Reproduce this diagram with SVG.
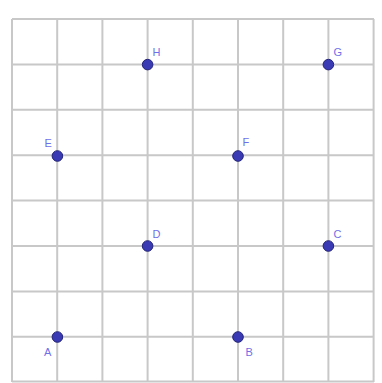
<svg xmlns="http://www.w3.org/2000/svg" width="382" height="383" viewBox="0 0 382 383">
<style>
.g{stroke:#c8c8c8;stroke-width:2;fill:none}
.p{fill:#3a3ab4;stroke:#24247a;stroke-width:1}
.l{font-family:"Liberation Sans",Arial,sans-serif;font-size:11px;fill:#7070e8}
</style>
<rect width="382" height="383" fill="#ffffff"/>
<g id="grid" class="g">
<path d="M12 19V382M57.2 19V382M102.4 19V382M147.6 19V382M192.8 19V382M238 19V382M283.2 19V382M328.4 19V382M373.6 19V382"/>
<path d="M12 19H374M12 64.4H374M12 109.8H374M12 155.2H374M12 200.6H374M12 246H374M12 291.4H374M12 336.8H374M12 381.5H374"/>
</g>
<g id="connectors"></g>
<g id="H"><circle class="p" cx="147.6" cy="64.6" r="5.3"/><text class="l" x="152.5" y="56">H</text></g>
<g id="G"><circle class="p" cx="328.4" cy="64.6" r="5.3"/><text class="l" x="333.5" y="56">G</text></g>
<g id="E"><circle class="p" cx="57.4" cy="156" r="5.3"/><text class="l" x="44.5" y="147">E</text></g>
<g id="F"><circle class="p" cx="238" cy="156" r="5.3"/><text class="l" x="242.5" y="146">F</text></g>
<g id="D"><circle class="p" cx="147.6" cy="246" r="5.3"/><text class="l" x="152.5" y="238">D</text></g>
<g id="C"><circle class="p" cx="328.4" cy="246" r="5.3"/><text class="l" x="333.5" y="238">C</text></g>
<g id="A"><circle class="p" cx="57.4" cy="337" r="5.3"/><text class="l" x="44" y="356">A</text></g>
<g id="B"><circle class="p" cx="238" cy="337" r="5.3"/><text class="l" x="245.5" y="356">B</text></g>
</svg>
